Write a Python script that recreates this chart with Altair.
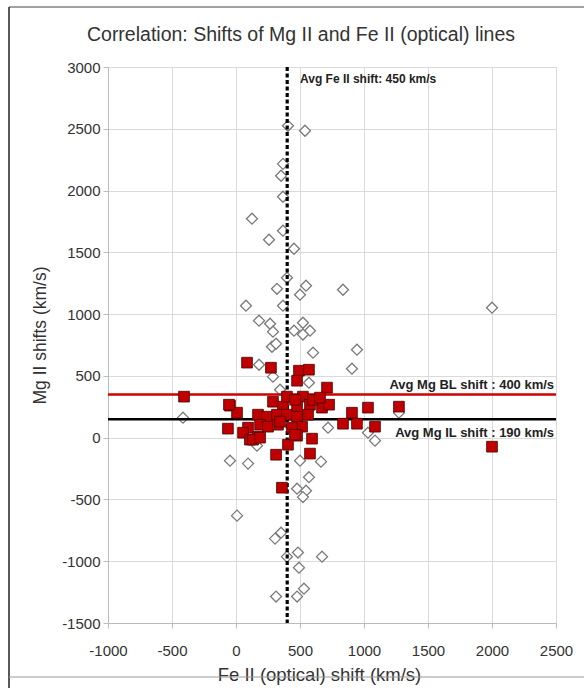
import altair as alt
import pandas as pd

# Open diamonds (Fe II shift, Mg II shift)
dia_x = [406, 539, 367, 352, 367, 125, 367, 258, 453, 398, 320, 547, 500, 836, 78, 367,
         180, 266, 289, 453, 523, 578, 523, 281, 313, 602, 945, 906, 180, 289, 570, 344,
         2000, -414, 719, 1031, 1086, 1273, 164, -47, 94, 500, 664, 570, 477, 547, 523,
         8, 305, 352, 398, 484, 492, 672, 313, 477, 531]
dia_y = [2524, 2484, 2216, 2120, 1950, 1772, 1675, 1602, 1529, 1294, 1205, 1230, 1157, 1197, 1068, 1068,
         947, 922, 858, 866, 930, 866, 835, 736, 760, 688, 712, 558, 590, 494, 445, 388,
         1052, 162, 81, 40, -24, 202, -65, -186, -210, -186, -194, -320, -413, -429, -481,
         -631, -817, -769, -963, -930, -1052, -963, -1286, -1286, -1222]

# Filled red squares
sq_x = [-406, 86, 273, 492, 570, 477, 711, 523, -47, 8, 289, 367, 477, 578, 672, 727,
        1031, 1273, 172, 242, 320, 398, 477, 563, 836, 906, 945, 1086, -63, 94, 188, 250,
        328, 516, 55, 109, 172, 477, 594, 406, 313, 578, 359, 398, 461, 602, 656, 344,
        437, 2000, -55, 133, 188, 461]
sq_y = [332, 607, 566, 542, 550, 461, 405, 332, 259, 202, 291, 251, 251, 267, 243, 267,
        243, 251, 186, 170, 186, 186, 170, 186, 113, 202, 113, 89, 73, 81, 105, 89,
        105, 89, 40, -16, 8, 16, -8, -57, -138, -129, -405, 332, 307, 307, 324, 130,
        81, -73, 267, -16, 0, 24]

# Reference lines (positions as drawn) and labels
fe_avg_x = [400]
mg_bl_y = [350]
mg_il_y = [150]
labels = ["Avg Fe II shift: 450 km/s", "Avg Mg BL shift : 400 km/s", "Avg Mg IL shift : 190 km/s"]
label_x = [500, 2485, 2485]
label_y = [2900, 430, 35]

x_ticks = [-1000, -500, 0, 500, 1000, 1500, 2000, 2500]
y_ticks = [-1500, -1000, -500, 0, 500, 1000, 1500, 2000, 2500, 3000]

TITLE = "Correlation: Shifts of Mg II and Fe II (optical) lines"
FONT = "Liberation Sans"

dia_df = pd.DataFrame({"fe": dia_x, "mg": dia_y})
sq_df = pd.DataFrame({"fe": sq_x, "mg": sq_y})

xs = alt.Scale(domain=[-1000, 2500], nice=False, zero=False)
ys = alt.Scale(domain=[-1500, 3000], nice=False, zero=False)

xenc = alt.X("fe:Q", scale=xs, title="Fe II (optical) shift (km/s)",
             axis=alt.Axis(values=x_ticks, grid=True, labelFontSize=15, labelColor="#333",
                           labelExpr="'' + datum.value",
                           labelFont=FONT, titleFont=FONT, titleFontSize=18.5, titleFontWeight="normal",
                           titleColor="#333", tickSize=5, labelPadding=15, titlePadding=7,
                           titleX=211, titleAlign="center",
                           domainColor="#bbb", tickColor="#bbb", gridColor="#dadada", labelFlush=False))
yenc = alt.Y("mg:Q", scale=ys, title="Mg II shifts (km/s)",
             axis=alt.Axis(values=y_ticks, grid=True, labelFontSize=15, labelColor="#333",
                           labelExpr="'' + datum.value",
                           labelFont=FONT, titleFont=FONT, titleFontSize=17.5, titleFontWeight="normal",
                           titleColor="#333", tickSize=5, labelPadding=3, titlePadding=12,
                           titleY=268, titleAlign="center",
                           domainColor="#bbb", tickColor="#bbb", gridColor="#dadada", labelFlush=False))

diamonds = alt.Chart(dia_df).mark_point(shape="diamond", size=120, filled=False, fill="white",
                                        stroke="#7a7a7a", strokeWidth=1.3, opacity=1).encode(x=xenc, y=yenc)
squares = alt.Chart(sq_df).mark_square(size=115, color="#c00000", stroke="#4a0000",
                                       strokeWidth=0.8, opacity=1).encode(x="fe:Q", y="mg:Q")

red_line = alt.Chart(pd.DataFrame({"mg": mg_bl_y})).mark_rule(color="#d00000", strokeWidth=2.5).encode(y="mg:Q")
black_line = alt.Chart(pd.DataFrame({"mg": mg_il_y})).mark_rule(color="#000", strokeWidth=2.5).encode(y="mg:Q")
vline = alt.Chart(pd.DataFrame({"fe": fe_avg_x})).mark_rule(color="#000", strokeWidth=3.2,
                                                             strokeDash=[4, 2.5]).encode(x="fe:Q")

lab_df = pd.DataFrame({"t": labels, "fe": label_x, "mg": label_y})
txt_left = alt.Chart(lab_df.iloc[[0]]).mark_text(align="left", baseline="middle", font=FONT,
                                                 fontSize=12, fontWeight="bold", color="#222").encode(
    x="fe:Q", y="mg:Q", text="t:N")
txt_right = alt.Chart(lab_df.iloc[[1, 2]]).mark_text(align="right", baseline="middle", font=FONT,
                                                     fontSize=13, fontWeight="bold", color="#222").encode(
    x="fe:Q", y="mg:Q", text="t:N")

title_txt = alt.Chart(pd.DataFrame({"t": [TITLE]})).mark_text(
    align="center", baseline="alphabetic", font=FONT, fontSize=19.5, color="#333", clip=False).encode(
    x=alt.value(193), y=alt.value(-26), text="t:N")

# outer frame of the original figure
frame_l = alt.Chart(pd.DataFrame({"a": [0]})).mark_rule(color="#222", strokeWidth=1.5, clip=False).encode(
    x=alt.value(-99), y=alt.value(-60), y2=alt.value(621))
frame_t = alt.Chart(pd.DataFrame({"a": [0]})).mark_rule(color="#444", strokeWidth=1.2, clip=False).encode(
    x=alt.value(-99), x2=alt.value(476), y=alt.value(-60))
frame_b = alt.Chart(pd.DataFrame({"a": [0]})).mark_rule(color="#999", strokeWidth=1.2, clip=False).encode(
    x=alt.value(-99), x2=alt.value(476), y=alt.value(610))

chart = alt.layer(diamonds, red_line, black_line, vline, squares, txt_left, txt_right, title_txt,
                  frame_l, frame_t, frame_b).properties(
    width=448, height=556,
    autosize=alt.AutoSizeParams(type="none"),
    padding={"left": 108, "top": 67, "right": 28, "bottom": 65},
    background="white",
).configure_view(stroke="#cfcfcf", strokeWidth=1)

chart.save("out.html", embed_options={"renderer": "svg", "actions": False})
